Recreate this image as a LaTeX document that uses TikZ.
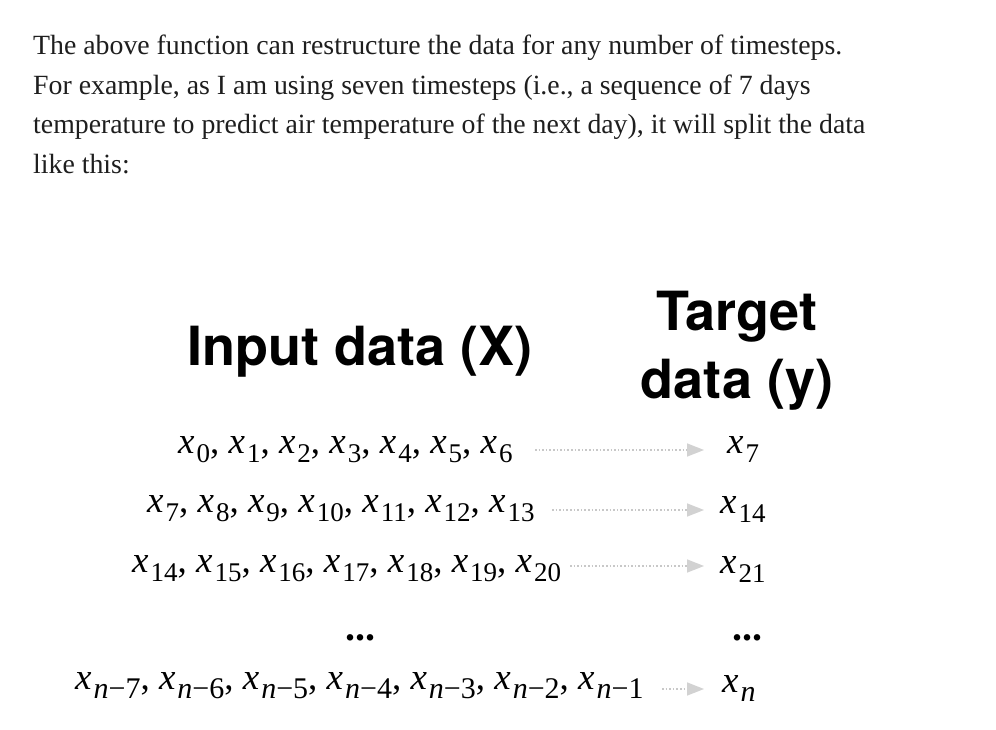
\documentclass[tikz,border=0pt]{standalone}
\usepackage{fontspec}
\setmainfont{Liberation Serif}
\newfontfamily\headfont{TeX Gyre Heros}
\usetikzlibrary{arrows.meta}
\definecolor{txt}{HTML}{1E1E1E}
\definecolor{arrgray}{HTML}{C8C8C8}
\definecolor{headgray}{HTML}{D2D2D2}
\newcommand\xs[1]{\textit{x}\kern2pt\raisebox{-0.27em}{\fontsize{27}{27}\selectfont #1}}
\newcommand\xnn[1]{\textit{x}\kern2pt\raisebox{-0.27em}{\fontsize{30}{30}\selectfont #1}}
\newcommand\xn[1]{\xnn{\textit{n}−#1}}
\begin{document}
\begin{tikzpicture}[x=1pt,y=-1pt,
  para/.style={anchor=base west, inner sep=0, text=txt, font=\fontsize{27.8}{27.8}\selectfont},
  head/.style={anchor=base, inner sep=0, font=\headfont\bfseries\fontsize{54}{54}\selectfont},
  row/.style={anchor=base west, inner sep=0, font=\fontsize{37}{37}\selectfont},
  dotsty/.style={anchor=base, inner sep=0, font=\bfseries\fontsize{40}{40}\selectfont},
  arr/.style={draw=arrgray, line width=1.6pt, dotted, -{Triangle[length=17pt,width=13pt,color=headgray,fill=headgray,sep=0pt]}}]
\useasboundingbox[fill=white] (0,0) rectangle (996,730);
% paragraph
\node[para] (p1) at (33,55) {The above function can restructure the data for any number of timesteps.};
\node[para] (p2) at (33,94.5) {For example, as I am using seven timesteps (i.e., a sequence of 7 days};
\node[para] (p3) at (33,134) {temperature to predict air temperature of the next day), it will split the data};
\node[para] (p4) at (33,174) {like this:};
% headings
\node[head] (hin) at (360,365) {Input data (X)};
\node[head] (ht1) at (737,330) {Target};
\node[head] (ht2) at (737,398) {data (y)};
% rows
\node[row] (r1) at (178,453) {\xs{0}, \xs{1}, \xs{2}, \xs{3}, \xs{4}, \xs{5}, \xs{6}};
\node[row] (r2) at (147,512) {\xs{7}, \xs{8}, \xs{9}, \xs{10}, \xs{11}, \xs{12}, \xs{13}};
\node[row] (r3) at (132,572) {\xs{14}, \xs{15}, \xs{16}, \xs{17}, \xs{18}, \xs{19}, \xs{20}};
\node[dotsty] (d1) at (360,640) {...};
\node[row] (r5) at (75,689) {\xn{7}, \xn{6}, \xn{5}, \xn{4}, \xn{3}, \xn{2}, \xn{1}};
\node[row] (t1) at (727,453) {\xs{7}};
\node[row] (t2) at (720,513) {\xs{14}};
\node[row] (t3) at (720,573) {\xs{21}};
\node[dotsty] (d2) at (747,640) {...};
\node[row] (t5) at (722,692) {\xnn{\textit{n}}};
% arrows
\coordinate (s1) at (535,450); \coordinate (e1) at (704,450);
\coordinate (s2) at (552,510); \coordinate (e2) at (704,510);
\coordinate (s3) at (570,566); \coordinate (e3) at (704,566);
\coordinate (s5) at (662,689); \coordinate (e5) at (704,689);
\draw[arr] (s1) -- (e1);
\draw[arr] (s2) -- (e2);
\draw[arr] (s3) -- (e3);
\draw[arr] (s5) -- (e5);
\end{tikzpicture}
\end{document}
